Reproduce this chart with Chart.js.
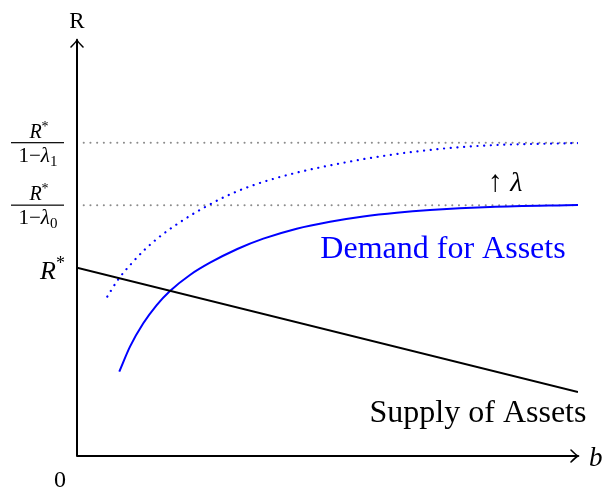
<!DOCTYPE html>
<html>
<head>
<meta charset="utf-8">
<script src="https://cdn.jsdelivr.net/npm/chart.js@4.4.1/dist/chart.umd.min.js"></script>
<style>
html, body { margin: 0; padding: 0; background: #fff; }
#wrap { width: 602px; height: 491px; }
</style>
</head>
<body>
<div id="wrap"><canvas id="myChart"></canvas></div>
<script>
// levels on the R axis
let rStar = 1.0;     // R*
let rLam0 = 1.333;   // R*/(1-λ0)
let rLam1 = 1.665;   // R*/(1-λ1)

// supply of assets (straight line)
let supplyB = [0, 10];
let supplyR = [1.0, 0.34];

// demand for assets, λ0 (solid)
let demandB = [0.844, 1.058, 1.323, 1.591, 1.856, 2.255, 2.655, 3.2, 3.719, 4.385, 5.050, 5.715, 6.381, 7.046, 8.244, 10];
let demandR = [0.448, 0.581, 0.705, 0.802, 0.877, 0.962, 1.027, 1.100, 1.155, 1.208, 1.245, 1.273, 1.293, 1.307, 1.323, 1.334];

// demand after λ goes up (dotted)
let demand1B = [0.605, 0.824, 1.092, 1.357, 1.691, 2.122, 2.489, 2.954, 3.487, 4.285, 5.29, 6.248, 7.245, 8.244, 10];
let demand1R = [0.847, 0.939, 1.024, 1.098, 1.174, 1.254, 1.313, 1.378, 1.436, 1.499, 1.557, 1.600, 1.632, 1.651, 1.663];

const serif = '"Liberation Serif", "DejaVu Serif", serif';

function pts(xs, ys) {
    return xs.map((x, i) => ({ x: x, y: ys[i] }));
}

// draw a row of text pieces with their own font / vertical shift
function drawRuns(ctx, runs, x, y, align) {
    let total = 0;
    runs.forEach(r => { ctx.font = r.font; total += ctx.measureText(r.t).width; });
    let cx = x;
    if (align === 'center') cx = x - total / 2;
    if (align === 'right') cx = x - total;
    ctx.textAlign = 'left';
    ctx.textBaseline = 'alphabetic';
    runs.forEach(r => {
        ctx.font = r.font;
        ctx.fillStyle = r.color || '#000';
        ctx.fillText(r.t, cx, y + (r.dy || 0));
        cx += ctx.measureText(r.t).width;
    });
    return total;
}

function arrowHead(ctx, x, y, dir) {
    // little tikz-like "to" arrow
    ctx.save();
    ctx.translate(x, y);
    ctx.rotate(dir);
    ctx.beginPath();
    ctx.moveTo(-7, -6);
    ctx.quadraticCurveTo(-2, -1, 0, 0);
    ctx.quadraticCurveTo(-2, 1, -7, 6);
    ctx.stroke();
    ctx.restore();
}

const diagram = {
    id: 'diagram',
    afterDatasetsDraw(chart) {
        const ctx = chart.ctx;
        const xs = chart.scales.x, ys = chart.scales.y;
        const x0 = xs.getPixelForValue(0), y0 = ys.getPixelForValue(0);
        const right = chart.chartArea.right, top = chart.chartArea.top - 2;

        ctx.save();
        ctx.strokeStyle = '#000';
        ctx.lineWidth = 2;
        ctx.lineCap = 'round';
        ctx.beginPath();
        ctx.moveTo(x0, y0);
        ctx.lineTo(x0, top);
        ctx.moveTo(x0, y0);
        ctx.lineTo(right, y0);
        ctx.stroke();
        ctx.lineWidth = 1.6;
        arrowHead(ctx, right, y0, 0);
        arrowHead(ctx, x0, top, -Math.PI / 2);

        // axis names
        drawRuns(ctx, [{ t: 'R', font: '23px ' + serif }], x0, 28, 'center');
        drawRuns(ctx, [{ t: 'b', font: 'italic 27px ' + serif }], right + 11, y0 + 10, 'left');
        drawRuns(ctx, [{ t: '0', font: '24px ' + serif }], x0 - 17, y0 + 31, 'center');

        // R* tick
        const pR = ys.getPixelForValue(rStar);
        drawRuns(ctx, [
            { t: 'R', font: 'italic 26px ' + serif },
            { t: '*', font: '18px ' + serif, dy: -10 }
        ], x0 - 12, pR + 11, 'right');

        // fraction ticks
        [[rLam1, '1'], [rLam0, '0']].forEach(f => {
            const py = ys.getPixelForValue(f[0]);
            const cx = 38;
            drawRuns(ctx, [
                { t: 'R', font: 'italic 20px ' + serif },
                { t: '*', font: '14px ' + serif, dy: -7 }
            ], cx + 1, py - 5, 'center');
            ctx.fillRect(11, py - 0.6, 53, 1.2);
            drawRuns(ctx, [
                { t: '1\u2212', font: '21px ' + serif },
                { t: '\u03bb', font: 'italic 21px ' + serif },
                { t: f[1], font: '15px ' + serif, dy: 4 }
            ], cx, py + 19, 'center');
        });

        // shift note and curve names
        drawRuns(ctx, [
            { t: '\u2191 ', font: '30px ' + serif },
            { t: '\u03bb', font: 'italic 28px ' + serif }
        ], 505, 191, 'center');
        drawRuns(ctx, [{ t: 'Demand for Assets', font: '32px ' + serif, color: '#0000ff' }], 443, 258, 'center');
        drawRuns(ctx, [{ t: 'Supply of Assets', font: '32px ' + serif }], 478, 422, 'center');
        ctx.restore();
    }
};

const ctx = document.getElementById('myChart').getContext('2d');
const myChart = new Chart(ctx, {
    type: 'scatter',
    data: {
        datasets: [
            {
                label: 'Supply of Assets',
                data: pts(supplyB, supplyR),
                showLine: true,
                borderColor: '#000000',
                borderWidth: 2,
                pointRadius: 0,
            },
            {
                label: 'Demand for Assets',
                data: pts(demandB, demandR),
                showLine: true,
                borderColor: '#0000ff',
                borderWidth: 2,
                pointRadius: 0,
                cubicInterpolationMode: 'monotone',
            },
            {
                label: 'Demand, higher lambda',
                data: pts(demand1B, demand1R),
                showLine: true,
                borderColor: '#0000ff',
                borderWidth: 2.2,
                borderDash: [0.1, 6.6],
                borderCapStyle: 'round',
                pointRadius: 0,
                cubicInterpolationMode: 'monotone',
            },
            {
                label: 'level 0',
                data: pts([0, 10], [rLam0, rLam0]),
                showLine: true,
                borderColor: '#8c8c8c',
                borderWidth: 2,
                borderDash: [0.1, 6.6],
                borderCapStyle: 'round',
                pointRadius: 0,
            },
            {
                label: 'level 1',
                data: pts([0, 10], [rLam1, rLam1]),
                showLine: true,
                borderColor: '#8c8c8c',
                borderWidth: 2,
                borderDash: [0.1, 6.6],
                borderCapStyle: 'round',
                pointRadius: 0,
            },
        ]
    },
    options: {
        animation: false,
        responsive: true,
        maintainAspectRatio: false,
        layout: { padding: { left: 77, right: 24, top: 42, bottom: 35 } },
        plugins: { legend: { display: false }, tooltip: { enabled: false } },
        scales: {
            x: { type: 'linear', min: 0, max: 10, display: false },
            y: { type: 'linear', min: 0, max: 2.2, display: false }
        }
    },
    plugins: [diagram]
});
</script>
</body>
</html>
